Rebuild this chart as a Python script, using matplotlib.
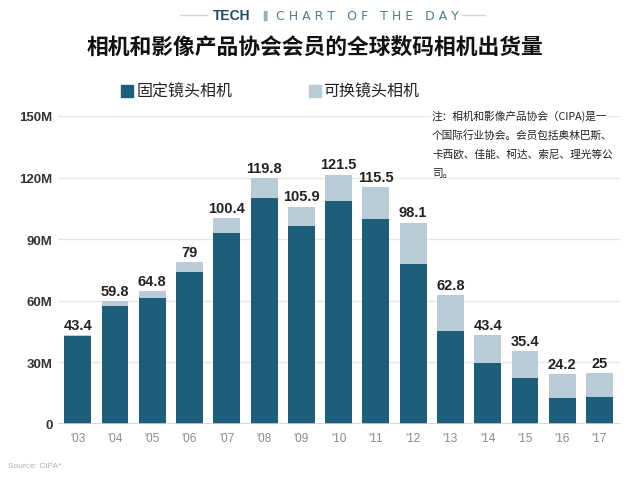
import matplotlib

matplotlib.use("Agg")
from matplotlib import pyplot as plt

plt.rcParams["font.family"] = ["Noto Sans CJK SC", "DejaVu Sans"]

years = ["'03", "'04", "'05", "'06", "'07", "'08", "'09", "'10", "'11", "'12",
         "'13", "'14", "'15", "'16", "'17"]
totals = [43.4, 59.8, 64.8, 79, 100.4, 119.8, 105.9, 121.5, 115.5, 98.1,
          62.8, 43.4, 35.4, 24.2, 25]
fixed_lens = [42.8, 57.4, 61.3, 74.0, 93.0, 110.1, 96.2, 108.4, 99.8, 78.0,
              45.5, 29.7, 22.3, 12.7, 13.3]
y_ticks = [0, 30, 60, 90, 120, 150]
y_tick_labels = ["0", "30M", "60M", "90M", "120M", "150M"]

DARK = "#1d5e7b"
LIGHT = "#b8cbd6"
LATIN = "Liberation Sans"

fig = plt.figure(figsize=(6.41, 4.81), dpi=100)
ax = fig.add_axes([58 / 641, 56 / 481, 562 / 641, 308 / 481])

x = list(range(len(years)))
interchangeable = [t - f for t, f in zip(totals, fixed_lens)]
ax.bar(x, fixed_lens, width=0.72, color=DARK, zorder=3)
ax.bar(x, interchangeable, bottom=fixed_lens, width=0.72, color=LIGHT, zorder=3)

for xi, total in zip(x, totals):
    ax.text(xi, total + 3.0, f"{total:g}", ha="center", va="baseline", fontsize=10.5,
            fontweight="bold", color="#222222", family=LATIN)

ax.set_xlim(-0.53, 14.55)
ax.set_ylim(0, 150)
ax.set_yticks(y_ticks)
ax.set_yticklabels(y_tick_labels, fontsize=9.5, fontweight="bold", color="#333333",
                   family=LATIN)
ax.set_xticks(x)
ax.set_xticklabels(years, fontsize=8.5, color="#8a8a8a", family=LATIN)
ax.tick_params(axis="both", length=0)
ax.tick_params(axis="y", pad=4)
ax.tick_params(axis="x", pad=6)
ax.grid(axis="y", color="#e6e6e6", linewidth=1, zorder=0)
for spine in ax.spines.values():
    spine.set_visible(False)
ax.axhline(0, color="#cfcfcf", linewidth=1.2, zorder=4)

# header
fig.text(0.4906, 1 - 48 / 481, "相机和影像产品协会会员的全球数码相机出货量", ha="center",
         va="center", fontsize=15.7, fontweight="bold", color="#111111")
fig.text(213 / 641, 1 - 16 / 481, "TECH", ha="left", va="center", fontsize=10,
         fontweight="bold", color="#1f4f63", family=LATIN)
fig.text(263 / 641, 1 - 16 / 481, "▐", ha="center", va="center", fontsize=7,
         color="#8fb0bd", family="DejaVu Sans")
fig.text(276 / 641, 1 - 16 / 481, "C H A R T   O F   T H E   D A Y", ha="left",
         va="center", fontsize=9, color="#4e7d8e", family="DejaVu Sans")
fig.add_artist(plt.Line2D([180 / 641, 207 / 641], [1 - 16 / 481] * 2, color="#d5d5d5",
                          linewidth=1))
fig.add_artist(plt.Line2D([462 / 641, 485 / 641], [1 - 16 / 481] * 2, color="#d5d5d5",
                          linewidth=1))

# legend
fig.patches.append(plt.Rectangle((121 / 641, 1 - 98 / 481), 12 / 641, 12 / 481,
                                 transform=fig.transFigure, color=DARK))
fig.text(137 / 641, 1 - 92 / 481, "固定镜头相机", ha="left", va="center", fontsize=11.5,
         color="#222222")
fig.patches.append(plt.Rectangle((309 / 641, 1 - 98 / 481), 12 / 641, 12 / 481,
                                 transform=fig.transFigure, color=LIGHT))
fig.text(323 / 641, 1 - 92 / 481, "可换镜头相机", ha="left", va="center", fontsize=11.5,
         color="#222222")

# note
note_lines = ["注：相机和影像产品协会（CIPA)是一", "个国际行业协会。会员包括奥林巴斯、",
              "卡西欧、佳能、柯达、索尼、理光等公", "司。"]
for i, line in enumerate(note_lines):
    fig.text(432 / 641, 1 - (116 + i * 19.3) / 481, line, ha="left", va="center",
             fontsize=7.7, color="#222222", zorder=10,
             bbox=dict(facecolor="white", edgecolor="none", pad=0.5) if i == 0 else None)

fig.text(8 / 641, 1 - 467 / 481, "Source: CIPA*", ha="left", va="center", fontsize=6,
         color="#b0b0b0", family=LATIN)

fig.savefig("out.png", dpi=100)
